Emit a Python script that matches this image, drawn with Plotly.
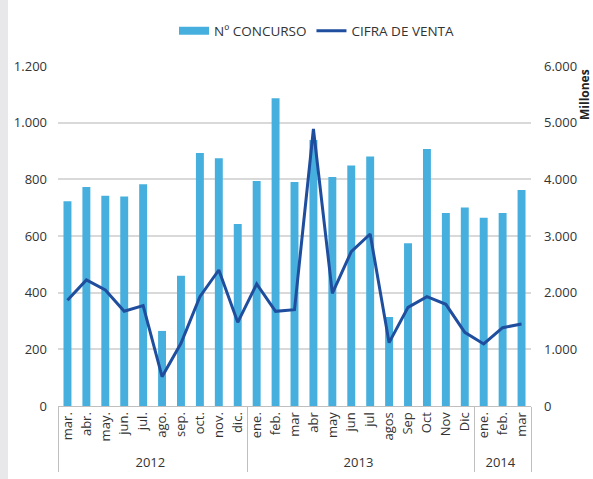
import plotly.graph_objects as go

years = ["2012"] * 10 + ["2013"] * 12 + ["2014"] * 3
months = ["mar.", "abr.", "may.", "jun.", "jul.", "ago.", "sep.", "oct.", "nov.", "dic.",
          "ene.", "feb.", "mar", "abr", "may", "jun", "jul", "agos", "Sep", "Oct", "Nov", "Dic",
          "ene.", "feb.", "mar"]
concursos = [723, 773, 742, 739, 783, 265, 460, 893, 874, 642,
             794, 1086, 791, 939, 808, 849, 881, 314, 574, 907, 681, 701,
             664, 681, 762]
ventas = [1865, 2224, 2047, 1671, 1771, 518, 1106, 1930, 2400, 1477,
          2153, 1671, 1700, 4888, 1988, 2724, 3035, 1118, 1741, 1930, 1794, 1300,
          1094, 1382, 1447]

BAR = "#47AFDD"
LINE = "#1F4E9E"
FONT = "Open Sans"

fig = go.Figure()
fig.add_trace(go.Bar(x=[years, months], y=concursos, name="Nº CONCURSO",
                     marker=dict(color=BAR, line=dict(width=0)), showlegend=False))
# legend entry drawn as a wide flat swatch like the original
fig.add_trace(go.Scatter(x=[years[:1], months[:1]], y=[None], name="Nº CONCURSO",
                         mode="lines", line=dict(color=BAR, width=8), hoverinfo="skip"))
fig.add_trace(go.Scatter(x=[years, months], y=ventas, name="CIFRA DE VENTA", yaxis="y2",
                         mode="lines", line=dict(color=LINE, width=3)))

fig.update_layout(
    width=593, height=479,
    margin=dict(l=58, r=62, t=66, b=73, autoexpand=False),
    paper_bgcolor="white", plot_bgcolor="white",
    font=dict(family=FONT, size=13, color="#333333"),
    separators=",.",
    bargap=0.58,
    showlegend=True,
    legend=dict(orientation="h", x=(317 - 58) / 473, xanchor="center",
                yref="container", y=1 - 31 / 479, yanchor="middle",
                font=dict(size=13.5, color="#333333"),
                itemwidth=30, traceorder="normal"),
    xaxis=dict(type="multicategory", tickangle=-90, showline=True, linecolor="#BFBFBF",
               linewidth=1, showdividers=True, dividercolor="#BFBFBF", dividerwidth=1,
               tickfont=dict(size=13, color="#333333"), ticks="", showgrid=False),
    yaxis=dict(range=[0, 1200], dtick=200, tickformat=",d", showgrid=True,
               gridcolor="#D9D9D9", gridwidth=1.5, zeroline=False, showline=False,
               ticklabelstandoff=10, tickfont=dict(size=13, color="#333333")),
    yaxis2=dict(range=[0, 6000], dtick=1000, tickformat=",d", overlaying="y", side="right",
                showgrid=False, zeroline=False, showline=False, ticklabelstandoff=12,
                tickfont=dict(size=13, color="#333333")),
    shapes=[dict(type="rect", xref="paper", yref="paper", x0=-58/473, x1=-50/473,
                 y0=-73/340, y1=1 + 66/340, fillcolor="#E8E8EA", line=dict(width=0),
                 layer="below")],
    annotations=[dict(text="<b>Millones</b>", textangle=-90, xref="paper", yref="paper",
                      x=1 + 53/473, y=1 - 29/340, xanchor="center", yanchor="middle",
                      showarrow=False, font=dict(size=12, color="#222222"))],
)

fig.write_html("out.html", config={"displayModeBar": False},
               post_script="document.body.style.margin='0';")
